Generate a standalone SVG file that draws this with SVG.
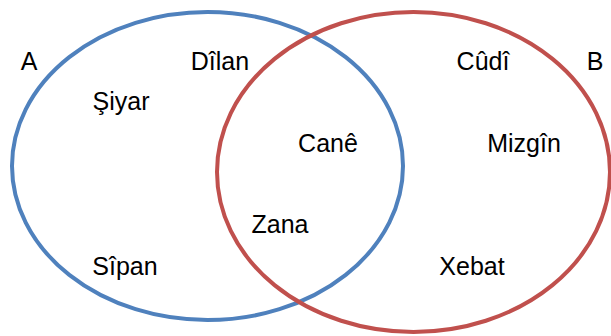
<svg xmlns="http://www.w3.org/2000/svg" width="611" height="336" viewBox="0 0 611 336">
<style>
.set{fill:none;stroke-width:4}
.t{font-family:"Liberation Sans",Arial,sans-serif;font-size:25px;fill:#000;text-anchor:middle}
</style>
<rect width="611" height="336" fill="#fff"/>
<g id="setA"><ellipse class="set" cx="207.5" cy="166" rx="195.5" ry="154" stroke="#4F81BD"/></g>
<g id="setB"><ellipse class="set" cx="413.5" cy="172" rx="196.5" ry="160" stroke="#C0504D"/></g>
<g id="labelA"><text class="t" x="29" y="70">A</text></g>
<g id="labelB"><text class="t" x="595" y="70">B</text></g>
<g id="dilan"><text class="t" x="220" y="70">Dîlan</text></g>
<g id="siyar"><text class="t" x="121" y="110">Şiyar</text></g>
<g id="cudi"><text class="t" x="483" y="70">Cûdî</text></g>
<g id="cane"><text class="t" x="328" y="152">Canê</text></g>
<g id="mizgin"><text class="t" x="524" y="152">Mizgîn</text></g>
<g id="zana"><text class="t" x="280" y="233">Zana</text></g>
<g id="sipan"><text class="t" x="125" y="275">Sîpan</text></g>
<g id="xebat"><text class="t" x="472" y="275">Xebat</text></g>
<g id="connectors"></g>
</svg>
